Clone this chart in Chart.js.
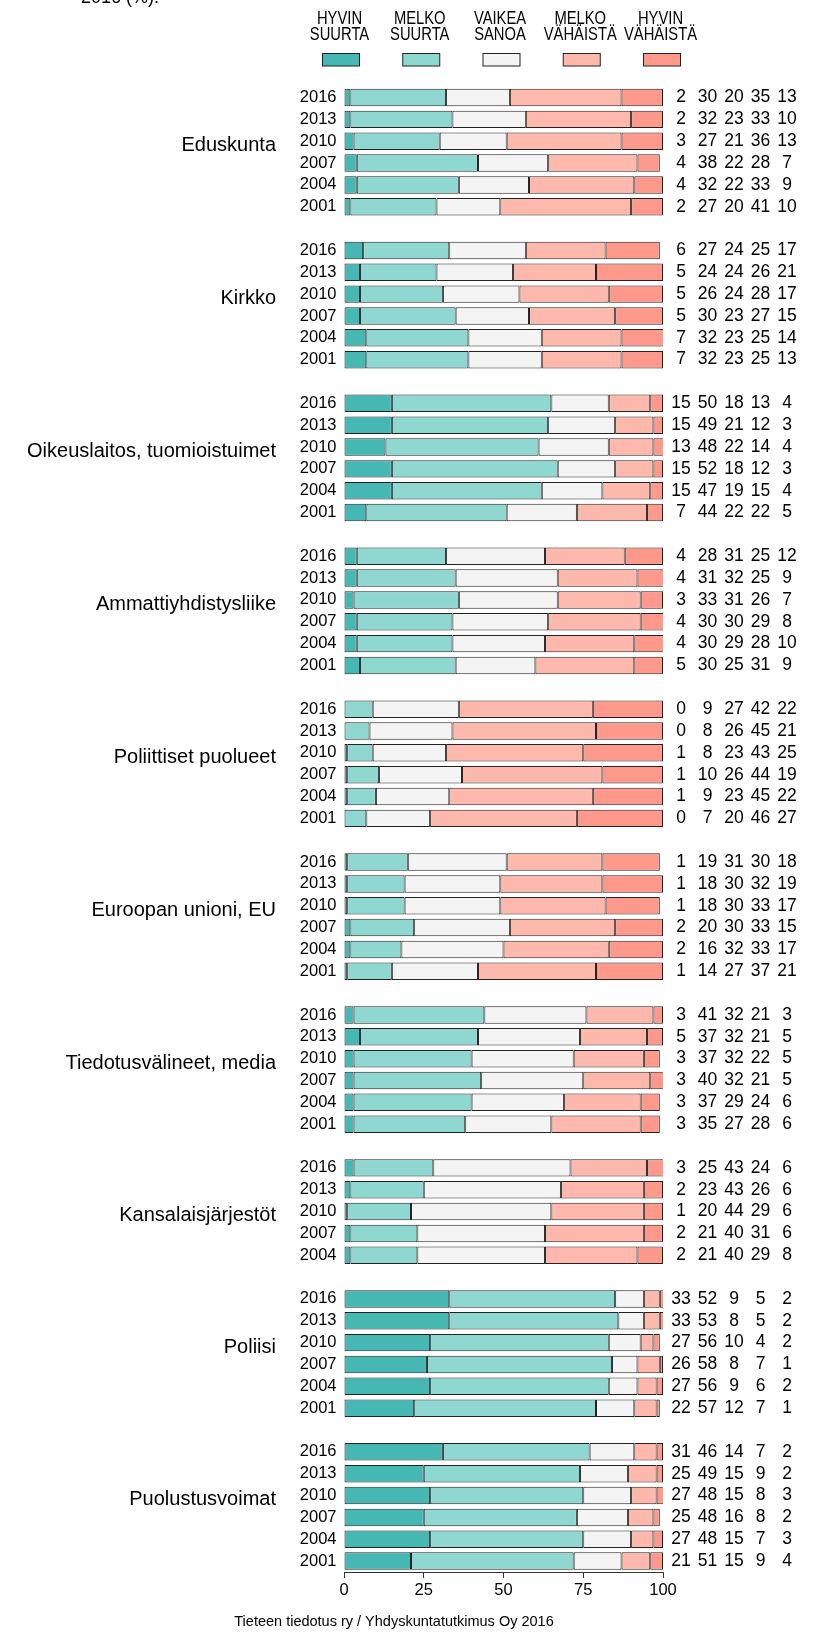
<!DOCTYPE html>
<html lang="fi">
<head>
    <meta charset="UTF-8">
    <meta name="viewport" content="width=device-width, initial-scale=1.0">
    <title>Luottamus instituutioihin</title>
    <style>
        html, body { margin: 0; padding: 0; background: #fff; }
        canvas { display: block; }
    </style>
    <script src="https://cdn.jsdelivr.net/npm/chart.js"></script>
</head>
<body>
    <canvas id="trustChart" width="814" height="1634"></canvas>

    <script>
        // Categories and labels
        const groups = ['Eduskunta', 'Kirkko', 'Oikeuslaitos, tuomioistuimet', 'Ammattiyhdistysliike',
            'Poliittiset puolueet', 'Euroopan unioni, EU', 'Tiedotusvälineet, media',
            'Kansalaisjärjestöt', 'Poliisi', 'Puolustusvoimat'];
        const years = ['2016', '2013', '2010', '2007', '2004', '2001'];
        const series = ['HYVIN SUURTA', 'MELKO SUURTA', 'VAIKEA SANOA', 'MELKO VÄHÄISTÄ', 'HYVIN VÄHÄISTÄ'];
        const colors = ['#46b8b3', '#8fd8d2', '#f4f4f4', '#ffb9ac', '#ff998b'];
        const xTicks = [0, 25, 50, 75, 100];

        // One row per year (2016 first), values in series order
        const eduskunta = [[2, 30, 20, 35, 13], [2, 32, 23, 33, 10], [3, 27, 21, 36, 13], [4, 38, 22, 28, 7], [4, 32, 22, 33, 9], [2, 27, 20, 41, 10]];
        const kirkko = [[6, 27, 24, 25, 17], [5, 24, 24, 26, 21], [5, 26, 24, 28, 17], [5, 30, 23, 27, 15], [7, 32, 23, 25, 14], [7, 32, 23, 25, 13]];
        const oikeuslaitos = [[15, 50, 18, 13, 4], [15, 49, 21, 12, 3], [13, 48, 22, 14, 4], [15, 52, 18, 12, 3], [15, 47, 19, 15, 4], [7, 44, 22, 22, 5]];
        const ammattiyhdistys = [[4, 28, 31, 25, 12], [4, 31, 32, 25, 9], [3, 33, 31, 26, 7], [4, 30, 30, 29, 8], [4, 30, 29, 28, 10], [5, 30, 25, 31, 9]];
        const puolueet = [[0, 9, 27, 42, 22], [0, 8, 26, 45, 21], [1, 8, 23, 43, 25], [1, 10, 26, 44, 19], [1, 9, 23, 45, 22], [0, 7, 20, 46, 27]];
        const eu = [[1, 19, 31, 30, 18], [1, 18, 30, 32, 19], [1, 18, 30, 33, 17], [2, 20, 30, 33, 15], [2, 16, 32, 33, 17], [1, 14, 27, 37, 21]];
        const media = [[3, 41, 32, 21, 3], [5, 37, 32, 21, 5], [3, 37, 32, 22, 5], [3, 40, 32, 21, 5], [3, 37, 29, 24, 6], [3, 35, 27, 28, 6]];
        const kansalaisjarjestot = [[3, 25, 43, 24, 6], [2, 23, 43, 26, 6], [1, 20, 44, 29, 6], [2, 21, 40, 31, 6], [2, 21, 40, 29, 8]];
        const poliisi = [[33, 52, 9, 5, 2], [33, 53, 8, 5, 2], [27, 56, 10, 4, 2], [26, 58, 8, 7, 1], [27, 56, 9, 6, 2], [22, 57, 12, 7, 1]];
        const puolustusvoimat = [[31, 46, 14, 7, 2], [25, 49, 15, 9, 2], [27, 48, 15, 8, 3], [25, 48, 16, 8, 2], [27, 48, 15, 7, 3], [21, 51, 15, 9, 4]];

        const groupRows = [eduskunta, kirkko, oikeuslaitos, ammattiyhdistys, puolueet, eu, media,
            kansalaisjarjestot, poliisi, puolustusvoimat];

        const FONT = "'Liberation Sans', Arial, sans-serif";

        // Flatten groups into one category axis, with an empty slot between groups
        const labels = [];
        const rowValues = [];
        const groupSpans = [];
        groupRows.forEach((rows, g) => {
            if (g > 0) {
                labels.push('');
                rowValues.push(null);
            }
            const first = labels.length;
            rows.forEach((r, i) => {
                labels.push(years[i]);
                rowValues.push(r);
            });
            groupSpans.push(first);
        });

        const datasets = series.map((name, s) => ({
            label: name,
            data: rowValues.map(r => (r ? r[s] : null)),
            backgroundColor: colors[s],
            borderColor: '#222',
            borderWidth: 1,
            borderSkipped: false,
            barPercentage: 0.8,
            categoryPercentage: 1
        }));

        // Texts around the plot: title, legend header, group names, numbers, footer
        const decorPlugin = {
            id: 'decorPlugin',
            beforeDraw(chart) {
                const ctx = chart.ctx;
                ctx.save();
                ctx.fillStyle = '#fff';
                ctx.fillRect(0, 0, chart.width, chart.height);
                ctx.restore();
            },
            afterDraw(chart) {
                const ctx = chart.ctx;
                const y = chart.scales.y;
                ctx.save();
                ctx.fillStyle = '#000';

                // title (cut off at the top edge)
                ctx.font = '18px ' + FONT;
                ctx.textAlign = 'left';
                ctx.textBaseline = 'alphabetic';
                ctx.fillText('2016 (%).', 81, 3);

                // legend header, condensed text over a colour box
                series.forEach((name, s) => {
                    const cx = 341 + s * 80.25;
                    const parts = name.split(' ');
                    ctx.save();
                    ctx.translate(cx - 1.5, 0);
                    ctx.scale(0.82, 1);
                    ctx.font = '18px ' + FONT;
                    ctx.textAlign = 'center';
                    ctx.textBaseline = 'middle';
                    ctx.fillStyle = '#000';
                    ctx.fillText(parts[0], 0, 19);
                    ctx.fillText(parts[1], 0, 35);
                    ctx.restore();
                    ctx.fillStyle = colors[s];
                    ctx.fillRect(cx - 18.5, 53.5, 37, 12.5);
                    ctx.strokeStyle = '#222';
                    ctx.lineWidth = 1;
                    ctx.strokeRect(cx - 18.5, 53.5, 37, 12.5);
                });

                // group names
                ctx.fillStyle = '#000';
                ctx.font = '20px ' + FONT;
                ctx.textAlign = 'right';
                ctx.textBaseline = 'middle';
                groups.forEach((name, g) => {
                    ctx.fillText(name, 276, y.getPixelForValue(groupSpans[g] + 2.2));
                });

                // numbers to the right of the bars
                ctx.font = '17.5px ' + FONT;
                ctx.textAlign = 'center';
                rowValues.forEach((r, i) => {
                    if (!r) return;
                    const py = y.getPixelForValue(i);
                    r.forEach((v, s) => ctx.fillText(String(v), 681 + s * 26.5, py));
                });

                // footer
                ctx.font = '14.5px ' + FONT;
                ctx.fillText('Tieteen tiedotus ry / Yhdyskuntatutkimus Oy 2016', 394, 1622);
                ctx.restore();
            }
        };

        new Chart(document.getElementById('trustChart').getContext('2d'), {
            type: 'bar',
            data: { labels: labels, datasets: datasets },
            options: {
                indexAxis: 'y',
                responsive: false,
                animation: false,
                layout: { padding: { top: 86.6, right: 151, left: 0, bottom: 0 } },
                plugins: {
                    legend: { display: false },
                    tooltip: { enabled: false }
                },
                scales: {
                    x: {
                        stacked: true,
                        min: 0,
                        max: 100,
                        afterBuildTicks: scale => {
                            scale.ticks = xTicks.map(v => ({ value: v }));
                        },
                        afterFit: scale => {
                            scale.height = 62;
                        },
                        grid: { drawOnChartArea: false, drawTicks: true, tickLength: 6, color: '#333' },
                        border: { display: true, color: '#333' },
                        ticks: { color: '#000', padding: 3, maxRotation: 0, font: { family: FONT, size: 16.5 } }
                    },
                    y: {
                        stacked: true,
                        afterFit: scale => {
                            scale.width = 344;
                        },
                        grid: { display: false, drawTicks: false },
                        border: { display: false },
                        ticks: { autoSkip: false, color: '#000', padding: 7.5, font: { family: FONT, size: 16.5 } }
                    }
                }
            },
            plugins: [decorPlugin]
        });
    </script>
</body>
</html>
